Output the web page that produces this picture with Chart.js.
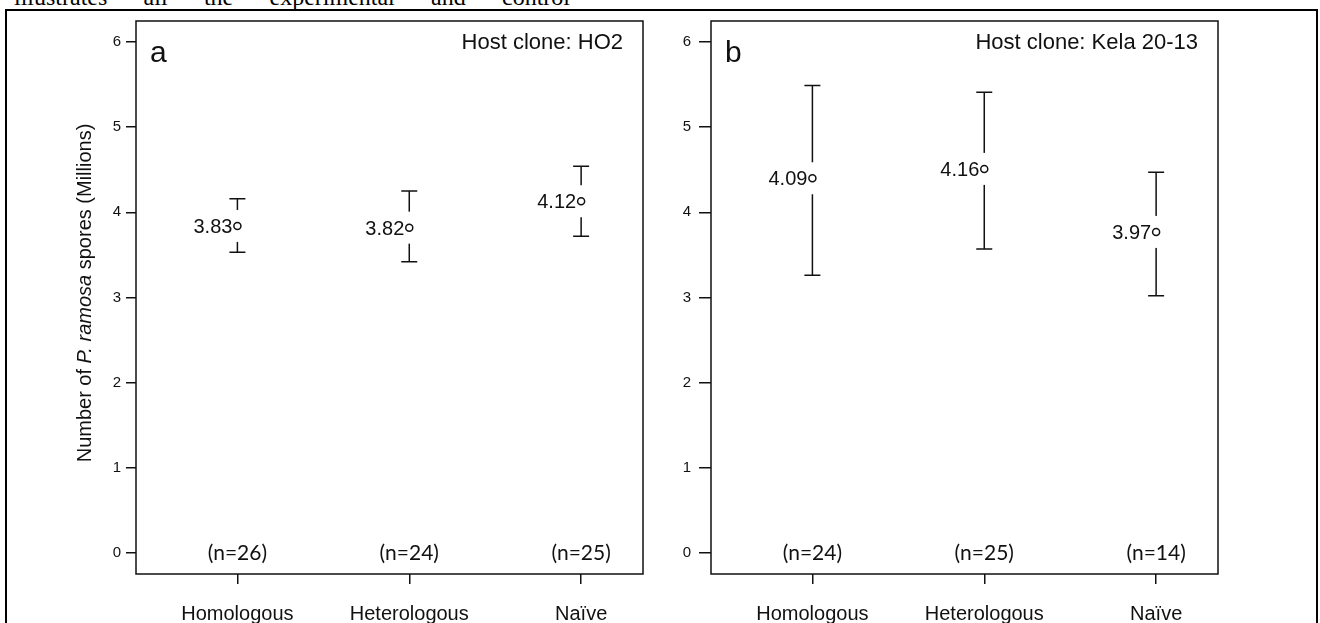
<!DOCTYPE html>
<html>
<head>
<meta charset="utf-8">
<script src="https://cdn.jsdelivr.net/npm/chart.js@4.4.0/dist/chart.umd.min.js"></script>
<style>
  html, body { margin: 0; padding: 0; background: #fff; }
  body { width: 1320px; height: 623px; position: relative; overflow: hidden; }
  #topline {
    position: absolute; left: 14px; top: -15px; width: 556px;
    font: 24px/24px "Liberation Serif", "Times New Roman", serif;
    text-align: justify; text-align-last: justify; color: #000;
  }
  #frame { position: absolute; left: 5px; top: 9px; width: 1309px; height: 700px; border: 2px solid #000; }
  .panel { position: absolute; top: 0; width: 660px; height: 623px; }
  #wrapA { left: 0; }
  #wrapB { left: 660px; }
</style>
</head>
<body>
<div id="topline">illustrates all the experimental and control</div>
<div id="frame"></div>
<div class="panel" id="wrapA"><canvas id="chartA" width="660" height="623"></canvas></div>
<div class="panel" id="wrapB"><canvas id="chartB" width="660" height="623"></canvas></div>
<script>
// groups on the x axis and y tick values
const groups = ['Homologous', 'Heterologous', 'Naïve'];
const yTicks = [0, 1, 2, 3, 4, 5, 6];

// panel a - host clone HO2
const meanA = [3.84, 3.82, 4.13];
const lowA = [3.53, 3.42, 3.72];
const highA = [4.16, 4.25, 4.54];
const labelA = ['3.83', '3.82', '4.12'];
const nA = ['(n=26)', '(n=24)', '(n=25)'];

// panel b - host clone Kela 20-13
const meanB = [4.40, 4.51, 3.77];
const lowB = [3.26, 3.57, 3.02];
const highB = [5.49, 5.41, 4.47];
const labelB = ['4.09', '4.16', '3.97'];
const nB = ['(n=24)', '(n=25)', '(n=14)'];

const SANS = '"Liberation Sans", Arial, sans-serif';
const INK = '#111';

// error bars, mean labels, n counts, frame and panel texts
const panelPlugin = {
    id: 'panel',
    beforeDatasetsDraw(chart, args, o) {
        const { ctx, scales: { x, y } } = chart;
        ctx.save();
        ctx.strokeStyle = INK;
        ctx.lineWidth = 1.5;
        o.mean.forEach((m, i) => {
            const px = x.getPixelForValue(i);
            const yl = y.getPixelForValue(o.low[i]);
            const yh = y.getPixelForValue(o.high[i]);
            ctx.beginPath();
            ctx.moveTo(px, yh); ctx.lineTo(px, yl);
            ctx.moveTo(px - 8, yh); ctx.lineTo(px + 8, yh);
            ctx.moveTo(px - 8, yl); ctx.lineTo(px + 8, yl);
            ctx.stroke();
            // white box behind the label breaks the bar
            const pm = y.getPixelForValue(m);
            ctx.font = '20px ' + SANS;
            const w = ctx.measureText(o.labels[i]).width;
            ctx.fillStyle = '#fff';
            ctx.fillRect(px - 7 - w, pm - 16, w + 13, 32);
        });
        ctx.restore();
    },
    afterDatasetsDraw(chart, args, o) {
        const { ctx, scales: { x, y } } = chart;
        ctx.save();
        ctx.fillStyle = INK;
        o.mean.forEach((m, i) => {
            const px = x.getPixelForValue(i);
            const pm = y.getPixelForValue(m);
            ctx.font = '20px ' + SANS;
            ctx.textAlign = 'right';
            ctx.textBaseline = 'alphabetic';
            ctx.fillText(o.labels[i], px - 5, pm + 7);
            ctx.font = '21px Lato, "Open Sans", sans-serif';
            ctx.textAlign = 'center';
            ctx.textBaseline = 'middle';
            ctx.fillText(o.n[i], px, y.getPixelForValue(0));
        });
        ctx.restore();
    },
    afterDraw(chart, args, o) {
        const { ctx, chartArea: a } = chart;
        ctx.save();
        ctx.strokeStyle = INK;
        ctx.lineWidth = 1.5;
        ctx.strokeRect(a.left, a.top, a.right - a.left, a.bottom - a.top);
        ctx.fillStyle = INK;
        ctx.textBaseline = 'alphabetic';
        ctx.font = '30px ' + SANS;
        ctx.textAlign = 'left';
        ctx.fillText(o.letter, a.left + 14, 62);
        ctx.font = '22px ' + SANS;
        ctx.textAlign = 'right';
        ctx.fillText(o.host, a.right - 20, 49);
        if (o.yTitle) {
            // rotated axis title with the species name in italics
            const parts = [['Number of ', ''], ['P. ramosa', 'italic '], [' spores (Millions)', '']];
            ctx.translate(85, 293);
            ctx.rotate(-Math.PI / 2);
            ctx.textAlign = 'left';
            ctx.textBaseline = 'middle';
            let total = 0;
            parts.forEach(p => { ctx.font = p[1] + '20px ' + SANS; total += ctx.measureText(p[0]).width; });
            let cx = -total / 2;
            parts.forEach(p => {
                ctx.font = p[1] + '20px ' + SANS;
                ctx.fillText(p[0], cx, 0);
                cx += ctx.measureText(p[0]).width;
            });
        }
        ctx.restore();
    }
};

function makePanel(id, mean, low, high, labels, n, opts) {
    return new Chart(document.getElementById(id), {
        type: 'scatter',
        data: {
            datasets: [{
                data: mean.map((m, i) => ({ x: i, y: m })),
                pointRadius: 3.5,
                pointBackgroundColor: '#fff',
                pointBorderColor: INK,
                pointBorderWidth: 1.5,
                showLine: false
            }]
        },
        options: {
            responsive: false,
            animation: false,
            devicePixelRatio: 1,
            layout: { padding: { top: 21, right: opts.padRight, left: 0, bottom: 0 } },
            plugins: {
                legend: { display: false },
                tooltip: { enabled: false },
                panel: { mean, low, high, labels, n, letter: opts.letter, host: opts.host, yTitle: opts.yTitle }
            },
            scales: {
                x: {
                    type: 'linear',
                    min: -0.59,
                    max: 2.36,
                    afterBuildTicks: s => { s.ticks = groups.map((g, i) => ({ value: i })); },
                    afterFit: s => { s.height = 49; },
                    ticks: {
                        callback: v => groups[v],
                        font: { family: SANS, size: 20 },
                        color: INK,
                        padding: 18,
                        maxRotation: 0,
                        autoSkip: false
                    },
                    grid: { drawOnChartArea: false, tickLength: 10, color: INK, lineWidth: 1.5 },
                    border: { display: false }
                },
                y: {
                    min: -0.2466,
                    max: 6.2466,
                    afterBuildTicks: s => { s.ticks = yTicks.map(v => ({ value: v })); },
                    afterFit: s => { s.width = opts.axisWidth; },
                    ticks: {
                        font: { family: SANS, size: 15 },
                        color: INK,
                        padding: opts.tickPad
                    },
                    grid: { drawOnChartArea: false, tickLength: opts.tickLen, color: INK, lineWidth: 1.5 },
                    border: { display: false }
                }
            }
        },
        plugins: [panelPlugin]
    });
}

makePanel('chartA', meanA, lowA, highA, labelA, nA,
    { letter: 'a', host: 'Host clone: HO2', yTitle: true, padRight: 17, axisWidth: 136, tickLen: 10, tickPad: 5 });
makePanel('chartB', meanB, lowB, highB, labelB, nB,
    { letter: 'b', host: 'Host clone: Kela 20-13', yTitle: false, padRight: 102, axisWidth: 51, tickLen: 12, tickPad: 8 });
</script>
</body>
</html>
